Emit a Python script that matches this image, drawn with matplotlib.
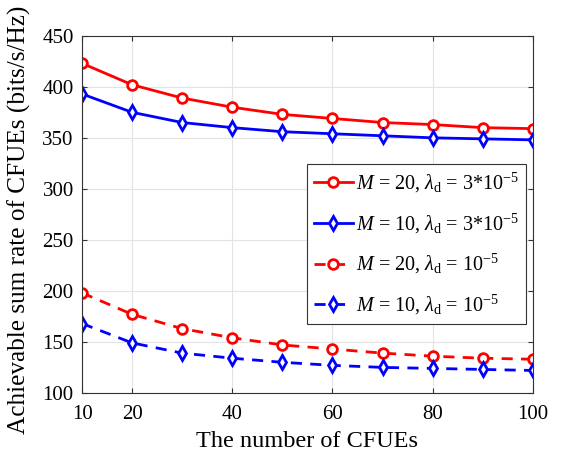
import numpy as np
import matplotlib.pyplot as plt

plt.rcParams['font.family'] = 'Liberation Serif'
plt.rcParams['mathtext.fontset'] = 'custom'
plt.rcParams['mathtext.rm'] = 'Liberation Serif'
plt.rcParams['mathtext.it'] = 'Liberation Serif:italic'

n_cfue = [10, 20, 30, 40, 50, 60, 70, 80, 90, 100]

rate_m20_hi = [423, 402, 389, 380, 373, 369, 365, 363, 360, 359]
rate_m10_hi = [393, 375, 365, 360, 356, 354, 352, 350, 349, 348]
rate_m20_lo = [198, 177, 163, 154, 147, 143, 139, 136, 134, 133]
rate_m10_lo = [168, 149, 139, 134, 130, 127, 125, 124, 123, 122]

fig = plt.figure(figsize=(5.62, 4.59), dpi=100)
ax = fig.add_axes([0.146, 0.144, 0.802, 0.778])

ax.plot(n_cfue, rate_m20_hi, "-o", color="red", lw=2, ms=7, mew=2, mfc="white",
        label=r"$M$ = 20, $\lambda_{\mathrm{d}}$ = 3*10$^{-5}$")
ax.plot(n_cfue, rate_m10_hi, "-d", color="blue", lw=2, ms=7, mew=2, mfc="white",
        label=r"$M$ = 10, $\lambda_{\mathrm{d}}$ = 3*10$^{-5}$")
ax.plot(n_cfue, rate_m20_lo, "--o", color="red", lw=2, ms=7, mew=2, mfc="white",
        dashes=(4, 3), label=r"$M$ = 20, $\lambda_{\mathrm{d}}$ = 10$^{-5}$")
ax.plot(n_cfue, rate_m10_lo, "--d", color="blue", lw=2, ms=7, mew=2, mfc="white",
        dashes=(4, 3), label=r"$M$ = 10, $\lambda_{\mathrm{d}}$ = 10$^{-5}$")

ax.set_xlim(10, 100)
ax.set_ylim(100, 450)
ax.set_xticks([10, 20, 40, 60, 80, 100])
ax.set_yticks(np.arange(100, 451, 50))
ax.tick_params(direction="in", labelsize=15, pad=6, top=True, right=True, color="#333333")
ax.tick_params(axis="x", pad=9)
ax.grid(True, color="#e3e3e3", lw=0.8)
for s in ax.spines.values():
    s.set_color("#333333")

ax.set_xlabel("The number of CFUEs", fontsize=17.5, labelpad=5)
ax.set_ylabel("Achievable sum rate of CFUEs (bits/s/Hz)", fontsize=18.2)
ax.yaxis.set_label_coords(-0.113, 0.485)

leg = ax.legend(loc="upper right", bbox_to_anchor=(0.9845, 0.6415), borderaxespad=0,
                fontsize=14.5, handlelength=1.9, fancybox=False, framealpha=1,
                borderpad=0.35, labelspacing=0.82, handletextpad=0.15)
leg.get_frame().set_edgecolor("#333333")
leg.get_frame().set_linewidth(0.8)

fig.savefig("out.png", dpi=100)
